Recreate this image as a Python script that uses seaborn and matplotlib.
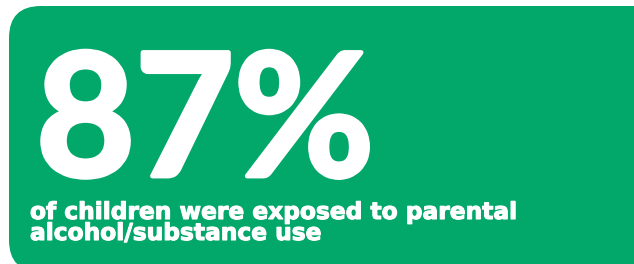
import matplotlib
matplotlib.use("Agg")
import matplotlib.pyplot as plt
import matplotlib.patheffects as pe
import seaborn as sns
from matplotlib.patches import FancyBboxPatch

# Dữ liệu
stat_value = "87%"
caption_lines = ["of children were exposed to parental", "alcohol/substance use"]
box_color = "#02A76A"

sns.set_theme(style="white")
plt.rcParams['font.family'] = ['Lato', 'DejaVu Sans']

fig = plt.figure(figsize=(6.34, 2.64), dpi=100)
ax = fig.add_axes([0, 0, 1, 1])
ax.set_xlim(0, 634)
ax.set_ylim(264, 0)
ax.axis("off")

# Khung bo tròn màu xanh
box = FancyBboxPatch((9, 6), 680, 266, boxstyle="round,pad=0,rounding_size=32",
                     facecolor=box_color, edgecolor="none")
ax.add_patch(box)

thick = [pe.withStroke(linewidth=3.5, foreground="white")]
ax.text(36, 176, stat_value, color="white", fontsize=123, fontweight="bold",
        ha="left", va="baseline", path_effects=thick)

for i, line in enumerate(caption_lines):
    ax.text(30, 219 + 21 * i, line, color="white", fontsize=16.8, fontweight="bold",
            family=["DejaVu Sans"], ha="left", va="baseline",
            path_effects=[pe.withStroke(linewidth=0.8, foreground="white")])

fig.savefig("out.png", dpi=100)
